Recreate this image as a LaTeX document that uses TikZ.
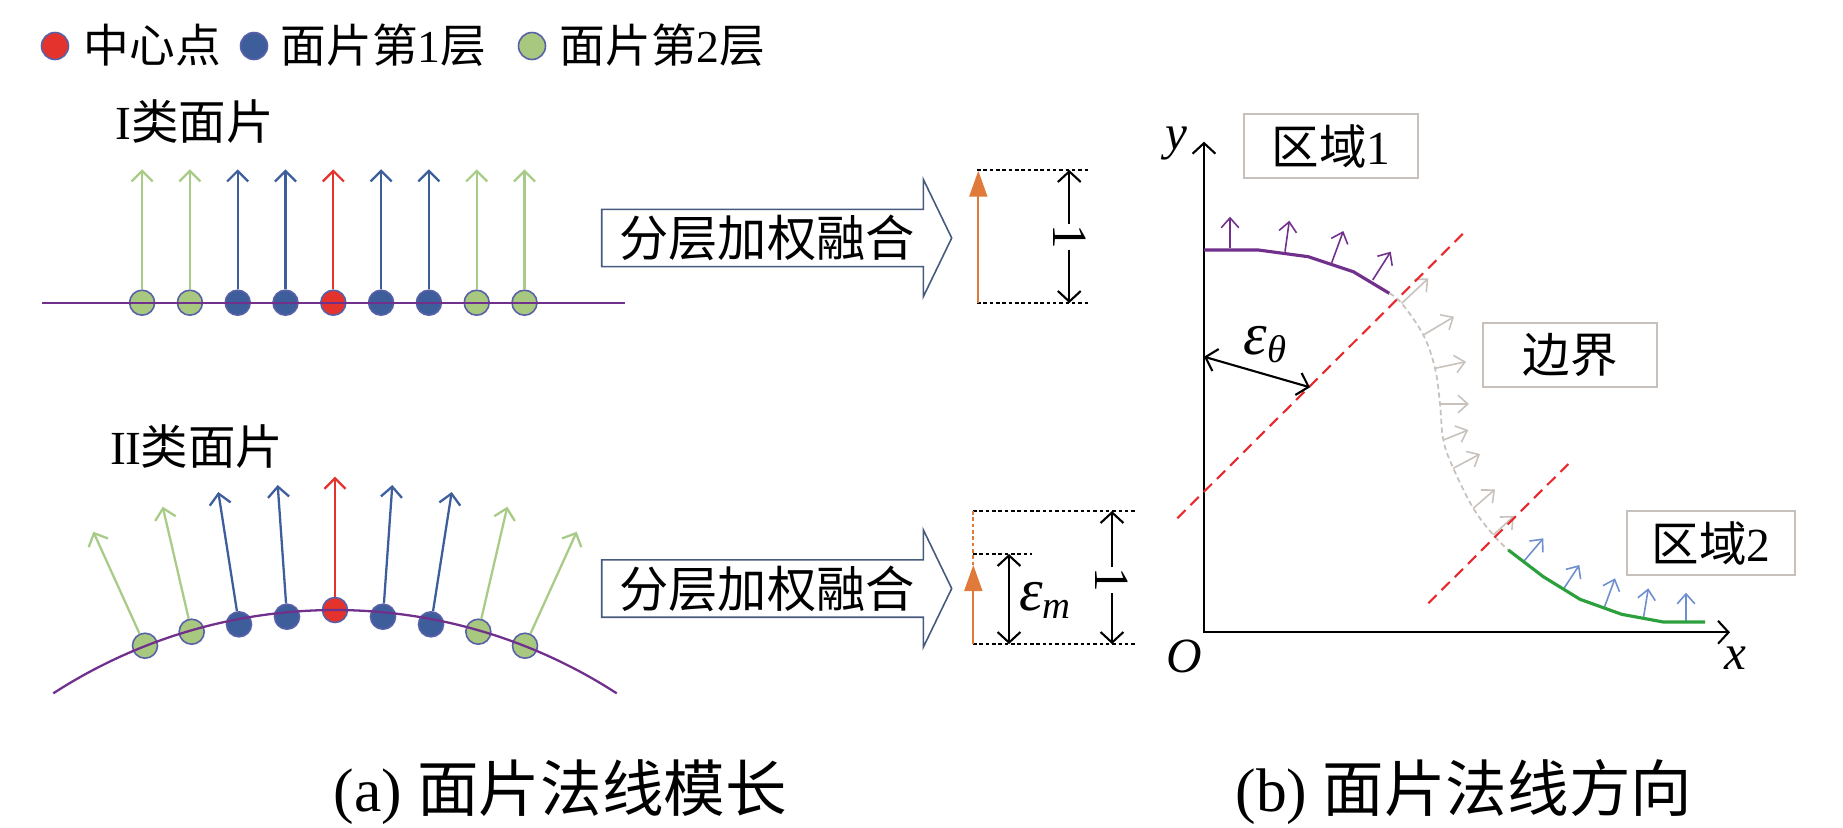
\documentclass[tikz,border=0pt]{standalone}
\usepackage{fontspec}
\setmainfont{Liberation Serif}
\newfontfamily\cjk{Noto Sans CJK SC}
\usetikzlibrary{arrows.meta}
\newcommand\zh[1]{{\cjk #1}}
\newcommand\fs[1]{\fontsize{#1}{#1}\selectfont}
\newcommand\sub[1]{{\fs{11}\raisebox{-.45ex}{\textit{#1}}}}
\definecolor{cRed}{RGB}{228,50,45}
\definecolor{cBlue}{RGB}{62,94,155}
\definecolor{cGreen}{RGB}{168,200,128}
\definecolor{cGreenL}{RGB}{168,204,136}
\definecolor{cRim}{RGB}{88,96,168}
\definecolor{cPurple}{RGB}{112,48,140}
\definecolor{cOrange}{RGB}{224,122,58}
\definecolor{cFuse}{RGB}{70,90,125}
\definecolor{cBox}{RGB}{200,192,186}
\definecolor{cGray}{RGB}{200,193,188}
\definecolor{cCut}{RGB}{232,40,43}
\definecolor{cGreenR}{RGB}{44,160,60}
\definecolor{cBlueL}{RGB}{110,142,204}
\begin{document}
\begin{tikzpicture}
  [x=0.01cm,y=-0.01cm,every node/.style={inner sep=0},
   pt/.style={circle,draw=cRim,line width=.45pt,minimum size=.25cm},
   nrm/.style={line width=.65pt,-{Straight Barb[length=3pt,width=6pt]}},
   thin nrm/.style={line width=.45pt,-{Straight Barb[length=2.8pt,width=5pt]}},
   surf/.style={cPurple,line width=.65pt},
   fuse/.style={draw=cFuse,line width=.45pt},
   guide/.style={line width=.55pt,dash pattern=on 1pt off .8pt},
   amp/.style={cOrange,line width=.6pt,-{Triangle[length=7.4pt,width=5.1pt]}},
   dim/.style={line width=.6pt,-{Straight Barb[length=3pt,width=6.5pt]}},
   dim2/.style={line width=.6pt,{Straight Barb[length=3pt,width=6.5pt]}-{Straight Barb[length=3pt,width=6.5pt]}},
   axis/.style={line width=.6pt,{Straight Barb[length=3pt,width=6.5pt]}-{Straight Barb[length=3pt,width=6.5pt]}},
   cutline/.style={cCut,line width=.6pt,dash pattern=on 3.3pt off 2pt},
   zone/.style={draw=cBox,line width=.6pt,minimum width=1.74cm,minimum height=.64cm,font=\fs{13.5}},
   lbl/.style={font=\fs{13}},
   big/.style={font=\fs{14}},
   num/.style={font=\fs{14}},
   capt/.style={font=\fs{17.5}}]
  \useasboundingbox (0,0) rectangle (1843,827);

  % legend
  \node[pt,fill=cRed,minimum size=.27cm] (kC) at (55,46) {};
  \node[lbl,anchor=west] (kCt) at (83,45) {\zh{中心点}};
  \node[pt,fill=cBlue,minimum size=.27cm] (kB) at (254,46) {};
  \node[lbl,anchor=west] (kBt) at (280,45) {\zh{面片第}1\zh{层}};
  \node[pt,fill=cGreen,minimum size=.27cm] (kG) at (532,46) {};
  \node[lbl,anchor=west] (kGt) at (559,45) {\zh{面片第}2\zh{层}};

  % (a) type I
  \node[lbl,anchor=west,font=\fs{13.5}] (t1) at (115,122) {I\zh{类面片}};
  \foreach \i/\f/\a in {-4/cGreen/cGreenL,-3/cGreen/cGreenL,-2/cBlue/cBlue,-1/cBlue/cBlue,
      0/cRed/cRed,1/cBlue/cBlue,2/cBlue/cBlue,3/cGreen/cGreenL,4/cGreen/cGreenL} {
    \node[pt,fill=\f] (a\i) at ({333.3+47.8*\i},302.7) {};
    \coordinate (ta\i) at ({333.3+47.8*\i},169.3);
    \draw[nrm,\a] (a\i) -- (ta\i);
  }
  \draw[surf] (42,302.7) -- (625,302.7);

  % (a) type II
  \node[lbl,anchor=west,font=\fs{13.5}] (t2) at (110,447) {I\kern-.03em I\zh{类面片}};
  \foreach \i/\dx/\dy/\tx/\ty/\f/\a in {-4/-190/645.7/-241.7/531.7/cGreen/cGreenL,
      -3/-143.3/631.7/-172.3/506.7/cGreen/cGreenL,-2/-96/624.3/-116.7/492/cBlue/cBlue,
      -1/-48/616.7/-57.3/485/cBlue/cBlue,0/0/610/0/476.7/cRed/cRed,
      1/48/616.7/57.3/485/cBlue/cBlue,2/96/624.3/116.7/492/cBlue/cBlue,
      3/143.3/631.7/172.3/506.7/cGreen/cGreenL,4/190/645.7/241.7/531.7/cGreen/cGreenL} {
    \node[pt,fill=\f] (b\i) at ({335+\dx},\dy) {};
    \coordinate (tb\i) at ({335+\tx},\ty);
    \draw[nrm,\a] (b\i) -- (tb\i);
  }
  \draw[surf] plot[domain=-122.95:-57.05,samples=50,smooth] ({335+518*cos(\x)},{1128+518*sin(\x)});

  % fusion arrows
  \foreach \k/\dy in {1/0,2/350.5} {
    \draw[fuse] (601.7,209.3+\dy) -- (923.3,209.3+\dy) -- (923.3,179.3+\dy) -- (951.7,238+\dy)
      -- (923.3,296.7+\dy) -- (923.3,266.7+\dy) -- (601.7,266.7+\dy) -- cycle;
    \node[big] (fuse\k) at (767,238+\dy) {\zh{分层加权融合}};
  }

  % result of type I
  \draw[guide] (977,170) -- (1088,170);
  \draw[guide] (977,303) -- (1088,303);
  \coordinate (o1b) at (978.3,302.7);
  \coordinate (o1t) at (978.3,170.7);
  \draw[amp] (o1b) -- (o1t);
  \node[num,rotate=-90] (one1) at (1069.3,237) {1};
  \coordinate (d1t) at (1069.3,170);
  \coordinate (d1b) at (1069.3,303);
  \draw[dim] (one1) -- (d1t);
  \draw[dim] (one1) -- (d1b);

  % result of type II
  \draw[guide] (973,511) -- (1137,511);
  \draw[guide] (973,554) -- (1032,554);
  \draw[guide] (973,644) -- (1137,644);
  \draw[guide,cOrange] (973.3,511) -- (973.3,565);
  \coordinate (o2b) at (973.3,644);
  \coordinate (o2t) at (973.3,565);
  \draw[amp] (o2b) -- (o2t);
  \coordinate (m2t) at (1009,554);
  \coordinate (m2b) at (1009,644);
  \draw[dim2] (m2t) -- (m2b);
  \node[big,font=\fs{17}] (em) at (1045,600) {\textit{ε}\sub{m}};
  \node[num,rotate=-90] (one2) at (1112,580) {1};
  \coordinate (d2t) at (1112,511);
  \coordinate (d2b) at (1112,644);
  \draw[dim] (one2) -- (d2t);
  \draw[dim] (one2) -- (d2b);

  % (b) axes
  \coordinate (O) at (1204,632.3);
  \coordinate (ytip) at (1204,141.7);
  \coordinate (xtip) at (1730,632.3);
  \draw[axis] (ytip) -- (O) -- (xtip);
  \node[num,font=\fs{14}\itshape] (ylab) at (1176.7,143.3) {y};
  \node[num,font=\fs{14}\itshape] (xlab) at (1735,658.3) {x};
  \node[num,font=\fs{14}\itshape] (olab) at (1184,656) {O};

  % region 1
  \foreach \n/\bx/\by/\tx/\ty in {1/1230/248.3/1230/216.7,2/1285/251.7/1289.3/220.7,
      3/1331.7/262.7/1343.3/231,4/1372.7/280/1390.7/251.7} {
    \coordinate (p\n) at (\bx,\by);
    \coordinate (pt\n) at (\tx,\ty);
    \draw[thin nrm,cPurple] (p\n) -- (pt\n);
  }
  \draw[cPurple,line width=.9pt] (1204,250) -- (1258.3,250) -- (1308.3,256.7) -- (1353.3,271.7) -- (1389.3,293.3);

  % boundary
  \draw[cGray,line width=.5pt,dash pattern=on 1.5pt off 1pt] plot[smooth,tension=.6] coordinates
    {(1389.3,293.3) (1401.7,303.3) (1423.3,335) (1435,368.3) (1440,404) (1443.3,440)
     (1453.3,468.3) (1473.3,508.3) (1493.3,535) (1508.3,550)};
  \foreach \n/\bx/\by/\tx/\ty in {1/1401.7/303.3/1428.3/278.3,2/1423.3/335/1454/316.7,
      3/1435/368.3/1466/361.7,4/1440/404/1469/404,5/1443.3/440/1468.3/430,
      6/1453.3/468.3/1480/454,7/1473.3/508.3/1495/489.3,8/1493.3/535/1514/516} {
    \coordinate (g\n) at (\bx,\by);
    \coordinate (gt\n) at (\tx,\ty);
    \draw[thin nrm,cGray] (g\n) -- (gt\n);
  }

  % region 2
  \foreach \n/\bx/\by/\tx/\ty in {1/1524/561/1543.3/538.3,2/1563.3/589.3/1579.3/565,
      3/1604/608.3/1615/578.3,4/1643.3/618.7/1648.3/588.3,5/1686/622/1686/592.7} {
    \coordinate (q\n) at (\bx,\by);
    \coordinate (qt\n) at (\tx,\ty);
    \draw[thin nrm,cBlueL] (q\n) -- (qt\n);
  }
  \draw[cGreenR,line width=.9pt] (1508.3,550) -- (1543.3,576.7) -- (1580,599.3) -- (1621.7,614.3) -- (1663.3,622) -- (1705,622);

  % thresholds
  \draw[cutline] (1177.3,518.3) -- (1463.3,233.3);
  \draw[cutline] (1428.3,603.3) -- (1568.3,464);
  \coordinate (eA) at (1204,356.7);
  \coordinate (eB) at (1310,387.3);
  \draw[dim2] (eA) -- (eB);
  \node[big,font=\fs{17}] (eth) at (1265,345) {\textit{ε}\sub{θ}};

  % labels
  \node[zone] (z1) at (1331.2,146.2) {\zh{区域}1};
  \node[zone] (zb) at (1570,355.3) {\zh{边界}};
  \node[zone,minimum width=1.68cm] (z2) at (1711.3,543) {\zh{区域}2};

  % captions
  \node[capt,anchor=base west] (capA) at (333,811) {(a) \zh{面片法线模长}};
  \node[capt,anchor=base west] (capB) at (1235,811) {(b) \zh{面片法线方向}};
\end{tikzpicture}
\end{document}
